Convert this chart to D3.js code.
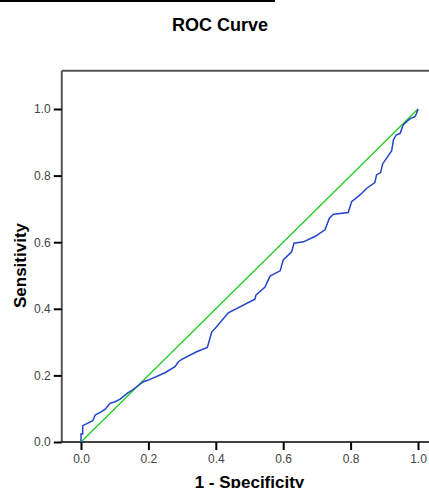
<!DOCTYPE html>
<html>
<head>
<meta charset="utf-8">
<script src="https://cdn.jsdelivr.net/npm/d3@7"></script>
<style>
  body { margin: 0; background: #fff; }
  svg { display: block; font-family: "Liberation Sans", Arial, sans-serif; }
</style>
</head>
<body>
<div id="chart"></div>
<script>
const width = 429;
const height = 488;

// ROC curve points: 1 - specificity, sensitivity
const fpr = [0, 0, 0.005, 0.005, 0.035, 0.042, 0.061, 0.071, 0.086, 0.101, 0.116, 0.140, 0.150, 0.165,
  0.185, 0.200, 0.249, 0.279, 0.289, 0.299, 0.343, 0.375, 0.388, 0.398, 0.437, 0.516, 0.519, 0.546,
  0.561, 0.591, 0.600, 0.625, 0.632, 0.660, 0.694, 0.724, 0.737, 0.749, 0.793, 0.803, 0.828, 0.848,
  0.872, 0.877, 0.889, 0.895, 0.922, 0.927, 0.935, 0.947, 0.956, 0.966, 0.978, 0.991, 0.996, 1];
const tpr = [0, 0.024, 0.024, 0.049, 0.064, 0.081, 0.091, 0.098, 0.116, 0.121, 0.129, 0.148, 0.154, 0.166,
  0.181, 0.186, 0.208, 0.226, 0.241, 0.248, 0.271, 0.284, 0.331, 0.341, 0.388, 0.429, 0.441, 0.465,
  0.498, 0.514, 0.547, 0.571, 0.597, 0.601, 0.617, 0.637, 0.672, 0.684, 0.689, 0.722, 0.742, 0.762,
  0.779, 0.802, 0.809, 0.835, 0.875, 0.907, 0.922, 0.927, 0.952, 0.962, 0.972, 0.977, 0.987, 1];
const refLine = [0, 1];
const ticks = [0, 0.2, 0.4, 0.6, 0.8, 1.0];

const svg = d3.select('#chart')
    .append('svg')
    .attr('width', width)
    .attr('height', height);

const x = d3.scaleLinear().domain([0, 1]).range([81, 418]);
const y = d3.scaleLinear().domain([0, 1]).range([442, 109]);

const frameLeft = x(-0.057);
const frameTop = y(1.115);

// stray rule at the very top
svg.append('line')
    .attr('x1', 0).attr('x2', 275)
    .attr('y1', 1).attr('y2', 1)
    .style('stroke', '#000').style('stroke-width', 2);

svg.append('text')
    .attr('x', 220).attr('y', 31)
    .attr('text-anchor', 'middle')
    .style('font-size', '18px').style('font-weight', 'bold')
    .text('ROC Curve');

// frame
svg.append('line')
    .attr('x1', frameLeft).attr('x2', width)
    .attr('y1', frameTop).attr('y2', frameTop)
    .style('stroke', '#555').style('stroke-width', 2);
svg.append('line')
    .attr('x1', frameLeft).attr('x2', frameLeft)
    .attr('y1', frameTop).attr('y2', y(0))
    .style('stroke', '#555').style('stroke-width', 2);

// axes
const xAxis = svg.append('g')
    .attr('transform', `translate(0,${y(0)})`)
    .call(d3.axisBottom(x).tickValues(ticks).tickFormat(d3.format('.1f')).tickSize(8).tickSizeOuter(0));
xAxis.select('.domain').remove();
xAxis.append('line')
    .attr('x1', frameLeft).attr('x2', width)
    .style('stroke', '#000').style('stroke-width', 1.5);

const yAxis = svg.append('g')
    .attr('transform', `translate(${frameLeft},0)`)
    .call(d3.axisLeft(y).tickValues(ticks).tickFormat(d3.format('.1f')).tickSize(8).tickSizeOuter(0));
yAxis.select('.domain').remove();

svg.selectAll('.tick line').style('stroke', '#000').style('stroke-width', 2);
svg.selectAll('.tick text')
    .style('font-size', '12px')
    .style('font-family', '"Liberation Sans", Arial, sans-serif')
    .style('fill', '#444');
xAxis.selectAll('.tick text').attr('y', 12);
yAxis.selectAll('.tick text').attr('x', -11);

// axis titles
svg.append('text')
    .attr('x', 249.5).attr('y', 488)
    .attr('text-anchor', 'middle')
    .style('font-size', '17px').style('font-weight', 'bold')
    .text('1 - Specificity');
svg.append('text')
    .attr('transform', 'translate(26,265.5) rotate(-90)')
    .attr('text-anchor', 'middle')
    .style('font-size', '17px').style('font-weight', 'bold')
    .text('Sensitivity');

// reference diagonal
svg.append('path')
    .datum(refLine)
    .attr('d', d3.line().x(d => x(d)).y(d => y(d)))
    .style('fill', 'none').style('stroke', '#22cc22').style('stroke-width', 1.3);

// ROC curve
svg.append('path')
    .datum(d3.zip(fpr, tpr))
    .attr('d', d3.line().x(d => x(d[0])).y(d => y(d[1])))
    .style('fill', 'none').style('stroke', '#2244cc').style('stroke-width', 1.5);
</script>
</body>
</html>
